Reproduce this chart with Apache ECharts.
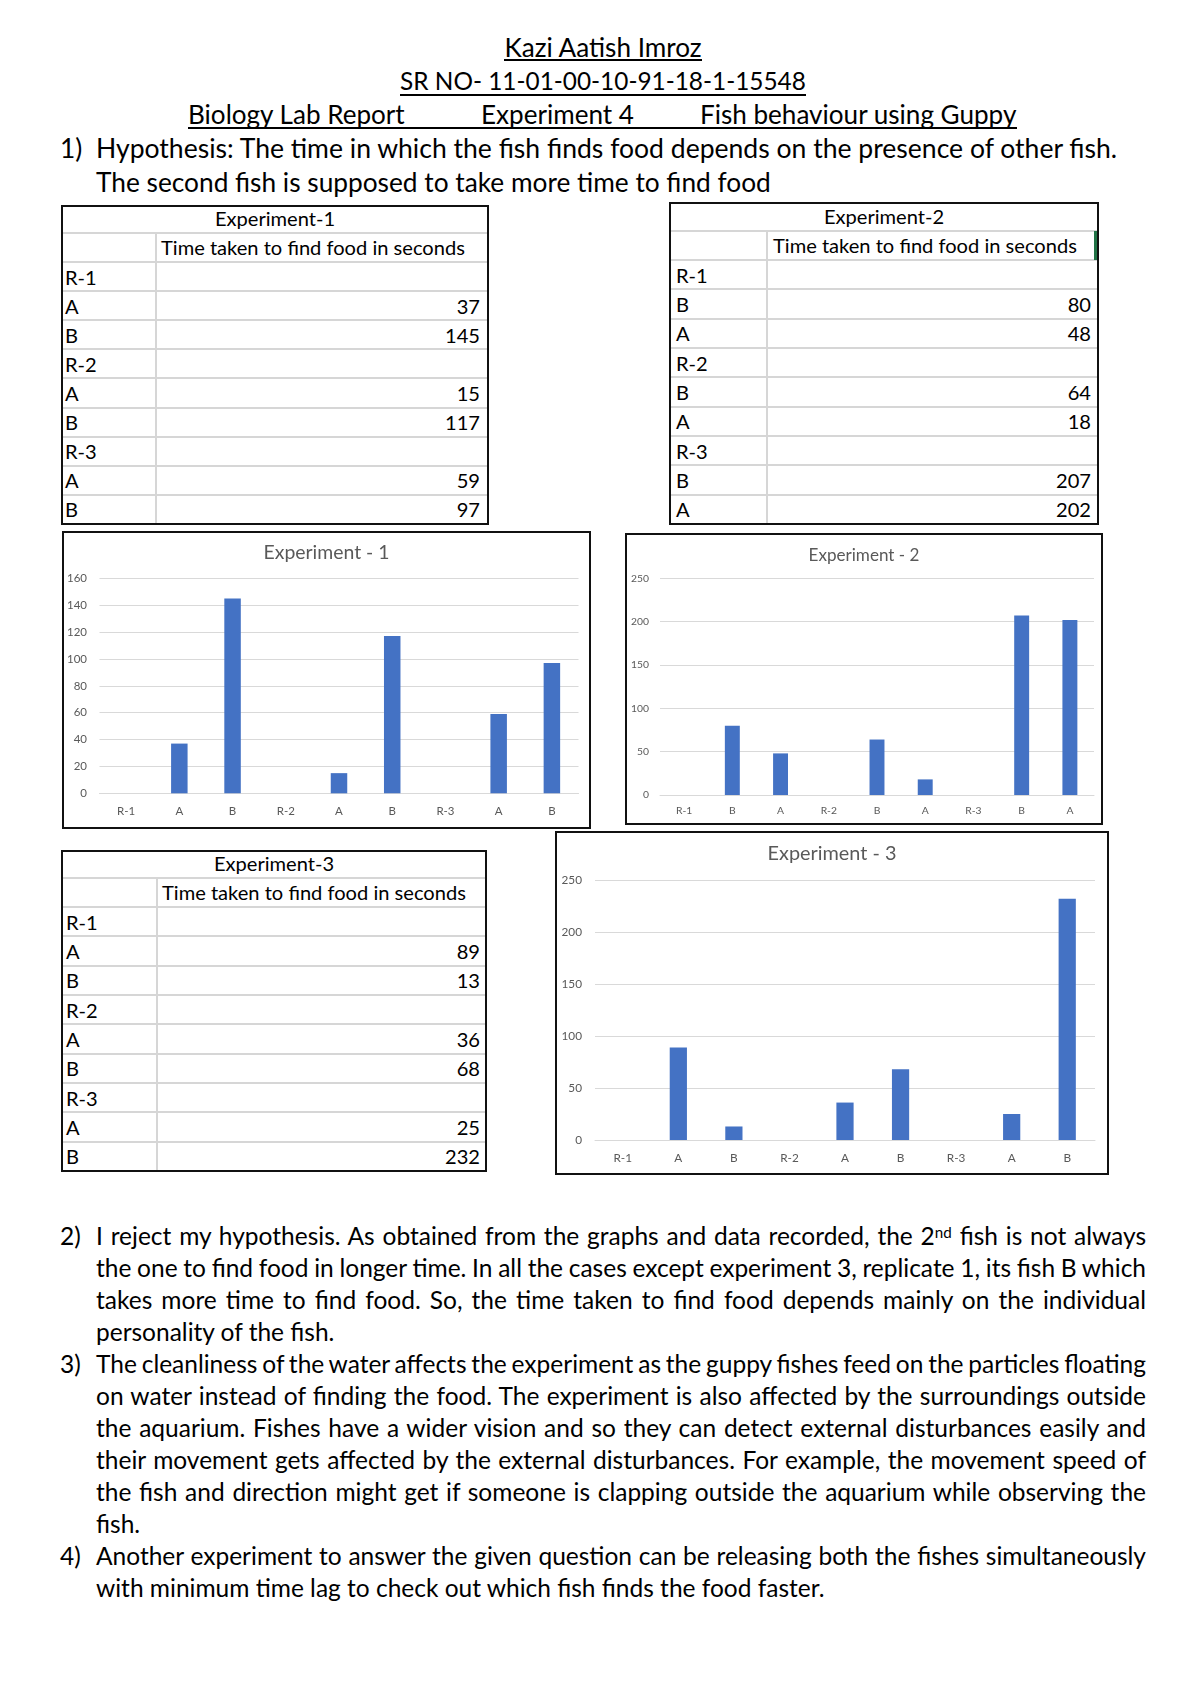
<!DOCTYPE html>
<html><head><meta charset="utf-8">
<script src="https://cdn.jsdelivr.net/npm/echarts@6/dist/echarts.min.js"></script>
<style>
html,body{margin:0;padding:0;background:#fff;}
body{width:1200px;height:1698px;position:relative;overflow:hidden;font-family:Lato,'Open Sans',sans-serif;color:#000;}
.t{position:absolute;white-space:nowrap;line-height:1;}
.ln{position:absolute;}
.box{position:absolute;box-sizing:border-box;}
sup{font-size:0.62em;vertical-align:0;position:relative;top:-0.5em;line-height:0;}
</style></head><body>
<script>
// ---------------- DATA ----------------
const headerLines = ['Kazi Aatish Imroz', 'SR NO- 11-01-00-10-91-18-1-15548'];
const headerParts = ['Biology Lab Report', 'Experiment 4', 'Fish behaviour using Guppy'];
const hypothesisLines = ['Hypothesis: The time in which the fish finds food depends on the presence of other fish.',
  'The second fish is supposed to take more time to find food'];
const tableTitles = ['Experiment-1', 'Experiment-2', 'Experiment-3'];
const chartTitles = ['Experiment - 1', 'Experiment - 2', 'Experiment - 3'];
const columnHeader = 'Time taken to find food in seconds';
const exp1Labels = ['R-1', 'A', 'B', 'R-2', 'A', 'B', 'R-3', 'A', 'B'];
const exp1Values = [null, 37, 145, null, 15, 117, null, 59, 97];
const exp2Labels = ['R-1', 'B', 'A', 'R-2', 'B', 'A', 'R-3', 'B', 'A'];
const exp2Values = [null, 80, 48, null, 64, 18, null, 207, 202];
const exp3Labels = ['R-1', 'A', 'B', 'R-2', 'A', 'B', 'R-3', 'A', 'B'];
const exp3Values = [null, 89, 13, null, 36, 68, null, 25, 232];
const exp1Ticks = [0, 20, 40, 60, 80, 100, 120, 140, 160];
const exp2Ticks = [0, 50, 100, 150, 200, 250];
const exp3Ticks = [0, 50, 100, 150, 200, 250];
const paragraphs = [
  { num: '2)', lines: [
    'I reject my hypothesis. As obtained from the graphs and data recorded, the 2<sup>nd</sup> fish is not always',
    'the one to find food in longer time. In all the cases except experiment 3, replicate 1, its fish B which',
    'takes more time to find food. So, the time taken to find food depends mainly on the individual',
    'personality of the fish.'] },
  { num: '3)', lines: [
    'The cleanliness of the water affects the experiment as the guppy fishes feed on the particles floating',
    'on water instead of finding the food. The experiment is also affected by the surroundings outside',
    'the aquarium. Fishes have a wider vision and so they can detect external disturbances easily and',
    'their movement gets affected by the external disturbances. For example, the movement speed of',
    'the fish and direction might get if someone is clapping outside the aquarium while observing the',
    'fish.'] },
  { num: '4)', lines: [
    'Another experiment to answer the given question can be releasing both the fishes simultaneously',
    'with minimum time lag to check out which fish finds the food faster.'] }
];

// ---------------- HELPERS ----------------
const FONT = "Lato, 'Open Sans', sans-serif";
const mctx = document.createElement('canvas').getContext('2d');
function textW(text, size) { mctx.font = size + 'px ' + FONT; return mctx.measureText(text).width; }
function fitSize(text, width) { return 100 * width / textW(text, 100); }
function baseOff(size) {
  mctx.font = size + 'px ' + FONT;
  const m = mctx.measureText('Hg');
  const a = m.fontBoundingBoxAscent, d = m.fontBoundingBoxDescent;
  return (size - (a + d)) / 2 + a;
}
function place(html, x, baseline, size, align, color) {
  const el = document.createElement('div');
  el.className = 't';
  el.innerHTML = html;
  el.style.fontSize = size + 'px';
  if (color) el.style.color = color;
  el.style.top = (baseline - baseOff(size)) + 'px';
  el.style.left = '0px';
  document.body.appendChild(el);
  const w = el.getBoundingClientRect().width;
  if (align === 'right') el.style.left = (x - w) + 'px';
  else if (align === 'center') el.style.left = (x - w / 2) + 'px';
  else el.style.left = x + 'px';
  return el;
}
function hline(x0, x1, y, th, color) {
  const d = document.createElement('div'); d.className = 'ln';
  d.style.left = x0 + 'px'; d.style.width = (x1 - x0) + 'px';
  d.style.top = (y - th / 2) + 'px'; d.style.height = th + 'px'; d.style.background = color;
  document.body.appendChild(d);
}
function vline(x, y0, y1, th, color) {
  const d = document.createElement('div'); d.className = 'ln';
  d.style.top = y0 + 'px'; d.style.height = (y1 - y0) + 'px';
  d.style.left = (x - th / 2) + 'px'; d.style.width = th + 'px'; d.style.background = color;
  document.body.appendChild(d);
}
function justify(html, x, baseline, size, width) {
  const el = place(html, x, baseline, size, 'left');
  const nat = el.getBoundingClientRect().width;
  const spaces = (el.textContent.match(/ /g) || []).length;
  if (spaces > 0) el.style.wordSpacing = ((width - nat) / spaces) + 'px';
  return el;
}

// ---------------- HEADER ----------------
(function () {
  const s1 = fitSize(headerLines[0], 198);
  place(headerLines[0], 603, 57, s1, 'center');
  hline(504, 702, 60, 1.6, '#000');
  const s2 = fitSize(headerLines[1], 406);
  place(headerLines[1], 603, 91, s2, 'center');
  hline(400, 806, 95, 1.6, '#000');
  const sp = fitSize(headerParts[2], 317);
  place(headerParts[0], 188, 124, sp, 'left');
  place(headerParts[1], 481, 124, sp, 'left');
  place(headerParts[2], 700, 124, sp, 'left');
  hline(188, 1017, 128, 1.6, '#000');
  const sh = fitSize(hypothesisLines[1], 675);
  const sh1 = fitSize(hypothesisLines[0], 1024);
  place('1)', 60, 158, sh, 'left');
  place(hypothesisLines[0], 96, 158, sh1, 'left');
  place(hypothesisLines[1], 96, 192, sh, 'left');
})();

// ---------------- TABLES ----------------
const tableSize = fitSize(columnHeader, 304);
function drawTable(L, title, labels, values) {
  const y = [L.top, L.top + L.h0, L.top + L.h0 + L.h1];
  const rowH = (L.bottom - y[2]) / labels.length;
  for (let i = 1; i <= labels.length; i++) y.push(y[2] + rowH * i);
  for (let i = 1; i < y.length - 1; i++) hline(L.x0, L.x1, y[i], 2, '#d6d6d6');
  vline(L.col, y[1], L.bottom, 2, '#d6d6d6');
  const b = document.createElement('div'); b.className = 'box';
  b.style.left = (L.x0 - 1) + 'px'; b.style.top = (L.top - 1) + 'px';
  b.style.width = (L.x1 - L.x0 + 2) + 'px'; b.style.height = (L.bottom - L.top + 2) + 'px';
  b.style.border = '2px solid #111';
  document.body.appendChild(b);
  if (L.marker) vline(L.x1 - 3, y[1], y[2], 3, '#217346');
  const off = 6.5;
  place(title, (L.x0 + L.x1) / 2, y[1] - off, tableSize, 'center');
  place(columnHeader, L.col + L.headPad, y[2] - off, tableSize, 'left');
  labels.forEach((lab, i) => {
    const bl = y[3 + i] - off;
    place(lab, L.x0 + L.labelPad, bl, tableSize, 'left');
    if (values[i] !== null) place(String(values[i]), L.x1 - L.numPad, bl, tableSize, 'right');
  });
}
drawTable({ x0: 62, x1: 488, top: 206, bottom: 524, h0: 27, h1: 29, col: 156, labelPad: 3, headPad: 5, numPad: 8 },
  tableTitles[0], exp1Labels, exp1Values);
drawTable({ x0: 670, x1: 1098, top: 203, bottom: 524, h0: 28, h1: 29, col: 767, labelPad: 6, headPad: 6, numPad: 7, marker: true },
  tableTitles[1], exp2Labels, exp2Values);
drawTable({ x0: 62, x1: 486, top: 851, bottom: 1171, h0: 27, h1: 29, col: 157, labelPad: 4, headPad: 5, numPad: 6 },
  tableTitles[2], exp3Labels, exp3Values);

// ---------------- CHARTS ----------------
function makeChart(C, title, labels, values, ticks) {
  const wrap = document.createElement('div'); wrap.className = 'box';
  wrap.style.left = C.x0 + 'px'; wrap.style.top = C.y0 + 'px';
  wrap.style.width = (C.x1 - C.x0) + 'px'; wrap.style.height = (C.y1 - C.y0) + 'px';
  wrap.style.border = '2px solid #111'; wrap.style.background = '#fff';
  document.body.appendChild(wrap);
  const inner = document.createElement('div');
  inner.style.position = 'absolute'; inner.style.left = '0'; inner.style.top = '0';
  inner.style.width = (C.x1 - C.x0 - 4) + 'px'; inner.style.height = (C.y1 - C.y0 - 4) + 'px';
  wrap.appendChild(inner);
  const ox = C.x0 + 2, oy = C.y0 + 2;
  const titleSize = fitSize(title, C.titleW);
  const ySize = fitSize(String(ticks[ticks.length - 1]), C.yLabW);
  const chart = echarts.init(inner, null, { renderer: 'canvas' });
  chart.setOption({
    animation: false,
    textStyle: { fontFamily: FONT },
    title: {
      text: title, left: 'center', top: C.titleY - oy - titleSize / 2,
      textStyle: { fontFamily: FONT, fontSize: titleSize, fontWeight: 'normal', color: '#595959' }
    },
    grid: {
      left: C.gx0 - ox, top: C.gy0 - oy, width: C.gx1 - C.gx0, height: C.gy1 - C.gy0,
      containLabel: false, outerBoundsMode: 'none'
    },
    xAxis: {
      type: 'category', data: labels,
      axisTick: { show: false },
      axisLine: { lineStyle: { color: '#d9d9d9', width: 1 } },
      axisLabel: { interval: 0, color: '#595959', fontFamily: FONT, fontSize: ySize, margin: C.xLabY - C.gy1 - ySize / 2 }
    },
    yAxis: {
      type: 'value', min: ticks[0], max: ticks[ticks.length - 1], interval: ticks[1] - ticks[0],
      axisLine: { show: false }, axisTick: { show: false },
      splitLine: { lineStyle: { color: '#d9d9d9', width: 1 } },
      axisLabel: { color: '#595959', fontFamily: FONT, fontSize: ySize, margin: C.gx0 - C.yLabR }
    },
    series: [{ type: 'bar', data: values, barWidth: '31%', itemStyle: { color: '#4472C4' } }]
  });
}
makeChart({ x0: 62, x1: 591, y0: 531, y1: 829, gx0: 99.5, gx1: 578.5, gy0: 578.3, gy1: 793.3,
  titleY: 548, titleW: 126, yLabW: 20, yLabR: 87, xLabY: 812 }, chartTitles[0], exp1Labels, exp1Values, exp1Ticks);
makeChart({ x0: 625, x1: 1103, y0: 533, y1: 825, gx0: 660, gx1: 1094, gy0: 578.3, gy1: 795,
  titleY: 551, titleW: 111, yLabW: 18, yLabR: 649, xLabY: 811 }, chartTitles[1], exp2Labels, exp2Values, exp2Ticks);
makeChart({ x0: 555, x1: 1109, y0: 831, y1: 1175, gx0: 595, gx1: 1095, gy0: 880, gy1: 1140,
  titleY: 849, titleW: 129, yLabW: 20.5, yLabR: 582, xLabY: 1158 }, chartTitles[2], exp3Labels, exp3Values, exp3Ticks);

// ---------------- PARAGRAPHS ----------------
(function () {
  const pSize = fitSize(paragraphs[2].lines[1], 729);
  let bl = 1246;
  const step = 32;
  paragraphs.forEach(p => {
    place(p.num, 60, bl, pSize, 'left');
    p.lines.forEach((ln, i) => {
      if (i < p.lines.length - 1) justify(ln, 96, bl, pSize, 1050);
      else place(ln, 96, bl, pSize, 'left');
      bl += step;
    });
  });
})();
</script>
</body></html>
